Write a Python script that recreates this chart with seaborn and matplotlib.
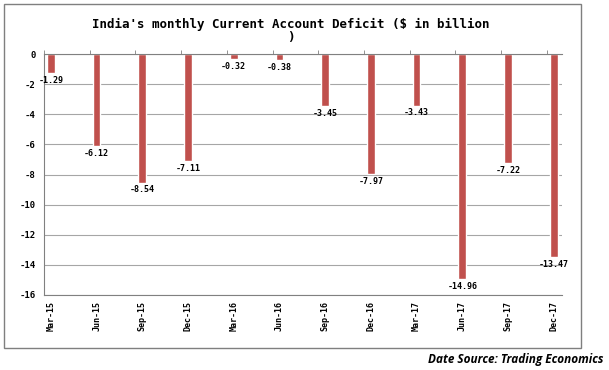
import matplotlib
matplotlib.use("Agg")
import matplotlib.pyplot as plt
import seaborn as sns
import pandas as pd
from matplotlib.patches import Rectangle

categories = ["Mar-15", "Jun-15", "Sep-15", "Dec-15", "Mar-16", "Jun-16",
              "Sep-16", "Dec-16", "Mar-17", "Jun-17", "Sep-17", "Dec-17"]
values = [-1.29, -6.12, -8.54, -7.11, -0.32, -0.38,
          -3.45, -7.97, -3.43, -14.96, -7.22, -13.47]
yticks = [0, -2, -4, -6, -8, -10, -12, -14, -16]

df = pd.DataFrame({"period": categories, "cad": values})

sns.set_style("white")
plt.rcParams['font.family'] = ['DejaVu Sans Mono', 'DejaVu Sans']
plt.rcParams['text.color'] = 'black'
plt.rcParams['xtick.color'] = 'black'
plt.rcParams['ytick.color'] = 'black'

fig = plt.figure(figsize=(6.09, 3.70), dpi=100)
fig.patch.set_facecolor("white")
fig.patches.append(Rectangle((4/609, 1-348/370), (581-4)/609, (348-4)/370,
                             transform=fig.transFigure, fill=False,
                             edgecolor="#7f7f7f", linewidth=1.0))

ax = fig.add_axes([44/609, 1-295/370, (562-44)/609, (295-54)/370])
sns.barplot(data=df, x="period", y="cad", color="#C0504D", width=0.17,
            saturation=1, ax=ax)
for c in ax.containers:
    ax.bar_label(c, labels=[f"{v:.2f}" for v in values], padding=2,
                 fontsize=6, fontweight="bold", color="black")

ax.set_xlim(-0.14, len(categories) - 1 + 0.18)
ax.set_ylim(-16, 0)
ax.set_yticks(yticks)
ax.set_yticklabels([str(t) for t in yticks])
ax.set_xlabel("")
ax.set_ylabel("")
ax.grid(axis="y", color="#a6a6a6", linewidth=0.8)
ax.set_axisbelow(True)
ax.tick_params(axis="x", which="major", length=0, pad=4, labelrotation=90,
               labelsize=6, labelcolor="black")
ax.tick_params(axis="y", length=3, color="#808080", pad=3, labelsize=6.5,
               labelcolor="black")
ax.set_xticks([i - 0.15 for i in range(len(categories))], minor=True)
ax.tick_params(axis="x", which="minor", top=True, bottom=False,
               direction="out", length=3, color="#808080")
ax.spines["top"].set_position(("data", 0))
ax.spines["top"].set_color("#808080")
ax.spines["right"].set_visible(False)
ax.spines["left"].set_color("#808080")
ax.spines["bottom"].set_color("#808080")
for lab in ax.get_xticklabels() + ax.get_yticklabels():
    lab.set_fontweight("bold")

fig.text(0.478, 1-18/370, "India's monthly Current Account Deficit ($ in billion\n)",
         ha="center", va="top", fontsize=9, fontweight="bold",
         linespacing=1.0, color="black")
fig.text(603/609, 1-360/370, "Date Source: Trading Economics", ha="right",
         va="center", fontsize=8.5, fontweight="bold", style="italic",
         color="black", family=["Open Sans", "DejaVu Sans"])

fig.savefig("out.png", dpi=100)
